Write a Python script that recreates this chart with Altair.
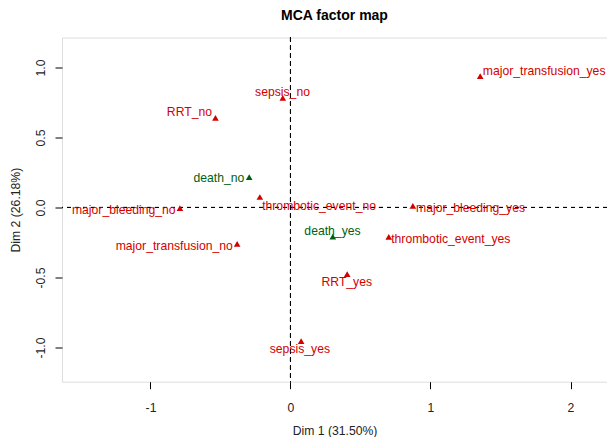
import altair as alt
import pandas as pd

# Category names, coordinates (Dim 1, Dim 2) and label anchors
names = ["sepsis_no", "RRT_no", "death_no", "thrombotic_event_no", "major_bleeding_no",
         "major_transfusion_no", "death_yes", "RRT_yes", "thrombotic_event_yes",
         "major_bleeding_yes", "sepsis_yes", "major_transfusion_yes"]
dim1 = [-0.055, -0.536, -0.295, -0.219, -0.790, -0.381, 0.302, 0.405, 0.702, 0.874, 0.076, 1.355]
dim2 = [0.783, 0.640, 0.217, 0.075, -0.004, -0.260, -0.208, -0.476, -0.210, 0.011, -0.954, 0.939]
label_x = [-0.057, -0.722, -0.511, 0.204, -1.191, -0.830, 0.300, 0.402, 1.145, 1.286, 0.067, 1.812]
label_y = [0.825, 0.683, 0.208, 0.009, -0.016, -0.272, -0.167, -0.531, -0.222, -0.006, -1.011, 0.975]
groups = ["active", "active", "supplementary", "active", "active", "active",
          "supplementary", "active", "active", "active", "active", "active"]

x_ticks = [-1, 0, 1, 2]
y_ticks = [-1.0, -0.5, 0.0, 0.5, 1.0]
x_domain = [-1.6321, 2.2607]
y_domain = [-1.244, 1.214]

df = pd.DataFrame({"name": names, "x": dim1, "y": dim2,
                   "lx": label_x, "ly": label_y, "group": groups})

FONT = "Liberation Sans"
xscale = alt.Scale(domain=x_domain, nice=False, zero=False)
yscale = alt.Scale(domain=y_domain, nice=False, zero=False)
pt_color = alt.Color("group:N", scale=alt.Scale(domain=["active", "supplementary"],
                                                range=["#D20000", "#005F10"]), legend=None)
tx_color = alt.Color("group:N", scale=alt.Scale(domain=["active", "supplementary"],
                                                range=["#C41E24", "#1A6A1F"]), legend=None)

neg_expr = "datum.value < 0 ? '-' + format(abs(datum.value), '{f}') : format(datum.value, '{f}')"

x_axis = alt.Axis(values=x_ticks, title="Dim 1 (31.50%)", grid=False, domain=False,
                  tickSize=7, tickColor="black", labelPadding=13, labelFontSize=12.2,
                  labelColor="#222", labelFont=FONT, labelExpr=neg_expr.format(f="d"),
                  titleFont=FONT, titleFontSize=12.2, titleFontWeight="normal",
                  titleColor="#222", titleY=48.3, titleBaseline="middle")
y_axis = alt.Axis(values=y_ticks, title="Dim 2 (26.18%)", grid=False, domain=False,
                  tickSize=7, tickColor="black", labelPadding=15, labelFontSize=12.2,
                  labelColor="#222", labelFont=FONT, labelAngle=270, labelAlign="center",
                  labelBaseline="middle", labelExpr=neg_expr.format(f=".1f"),
                  titleFont=FONT, titleFontSize=12.2, titleFontWeight="normal",
                  titleColor="#222", titleX=-47, titleBaseline="middle")

base = alt.Chart(df)

points = base.mark_point(shape="triangle-up", filled=True, size=44, opacity=1).encode(
    x=alt.X("x:Q", scale=xscale, axis=x_axis),
    y=alt.Y("y:Q", scale=yscale, axis=y_axis),
    color=pt_color,
)

labels = base.mark_text(font=FONT, fontSize=12.2, align="center", baseline="middle").encode(
    x=alt.X("lx:Q", scale=xscale),
    y=alt.Y("ly:Q", scale=yscale),
    text="name:N",
    color=tx_color,
)

vline = alt.Chart(df).mark_rule(color="black", strokeDash=[4, 4], strokeWidth=1).encode(
    x=alt.datum(0, scale=xscale))
hline = alt.Chart(df).mark_rule(color="black", strokeDash=[4, 4], strokeWidth=1).encode(
    y=alt.datum(0, scale=yscale))

chart = alt.layer(vline, hline, points, labels).properties(
    width=545,
    height=344.2,
    title=alt.TitleParams("MCA factor map", font=FONT, fontSize=14, fontWeight="bold",
                          color="black", anchor="middle", baseline="alphabetic",
                          frame="group", offset=3.5),
    autosize=alt.AutoSizeParams(type="none"),
    padding={"left": 54, "top": 29.5, "right": 0, "bottom": 55.3},
).configure_view(stroke="black", strokeWidth=1).configure(background="white")

chart.save("out.html", embed_options={"renderer": "svg", "actions": False})
